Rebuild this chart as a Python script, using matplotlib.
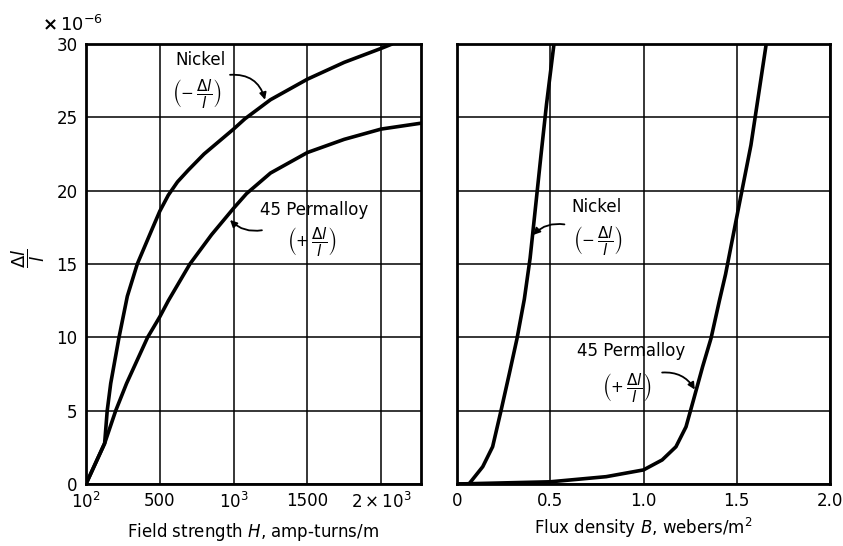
import numpy as np
import matplotlib
matplotlib.use("Agg")
import matplotlib.pyplot as plt

plt.rcParams["font.family"] = ["DejaVu Sans"]
plt.rcParams["mathtext.fontset"] = "dejavusans"

# Magnetostriction (x 10^-6) versus field strength H (amp-turns/m)
h_nickel = [100, 201, 215, 234, 279, 324, 378, 459, 500, 558, 620, 693, 800,
            1000, 1077, 1250, 1500, 1750, 2000, 2074]
strain_nickel_h = [0, 2.77, 5.0, 6.86, 10.0, 12.8, 15.0, 17.4, 18.6, 19.7, 20.6,
                   21.4, 22.5, 24.2, 24.9, 26.2, 27.6, 28.75, 29.7, 30.0]

h_permalloy = [100, 201, 261, 320, 434, 500, 558, 704, 851, 1000, 1088, 1250,
               1500, 1750, 2000, 2270]
strain_permalloy_h = [0, 2.77, 5.0, 6.86, 10.0, 11.4, 12.5, 15.0, 17.0, 18.8,
                      19.8, 21.2, 22.6, 23.5, 24.2, 24.6]

# Magnetostriction (x 10^-6) versus flux density B (webers/m^2)
b_nickel = [0, 0.064, 0.138, 0.191, 0.236, 0.281, 0.322, 0.361, 0.392, 0.417,
            0.451, 0.480, 0.520]
strain_nickel_b = [0, 0, 1.18, 2.54, 5.0, 7.55, 9.93, 12.6, 15.4, 18.4, 22.5,
                   25.9, 30.0]

b_permalloy = [0, 0.5, 0.80, 1.0, 1.1, 1.174, 1.228, 1.268, 1.317, 1.362, 1.407,
               1.440, 1.503, 1.576, 1.658]
strain_permalloy_b = [0, 0.15, 0.5, 0.96, 1.64, 2.54, 3.9, 5.73, 8.0, 9.93, 12.5,
                      14.3, 18.4, 23.1, 30.0]

h_ticks = [100, 500, 1000, 1500, 2000]
h_tick_labels = [r"$10^2$", "500", r"$10^3$", "1500", r"$2\times10^3$"]
b_ticks = [0, 0.5, 1.0, 1.5, 2.0]
b_tick_labels = ["0", "0.5", "1.0", "1.5", "2.0"]
strain_ticks = [0, 5, 10, 15, 20, 25, 30]


# H axis: the first division spans 100..500, the rest are 500 wide
def h_forward(h):
    h = np.asarray(h, dtype=float)
    return np.where(h < 500, (h - 100) * 1.25, h)


def h_inverse(p):
    p = np.asarray(p, dtype=float)
    return np.where(p < 500, p * 0.8 + 100, p)


W, H = 843, 546
fig = plt.figure(figsize=(W / 100, H / 100), dpi=100)
ax_h = fig.add_axes([86 / W, 62 / H, 335 / W, 440 / H])
ax_b = fig.add_axes([457 / W, 62 / H, 373 / W, 440 / H])

curve_kw = dict(color="black", lw=2.6, solid_joinstyle="round",
                solid_capstyle="round", clip_on=True)

for ax in (ax_h, ax_b):
    ax.set_ylim(0, 30)
    ax.set_yticks(strain_ticks)
    ax.grid(True, color="black", lw=1.1)
    ax.set_axisbelow(True)
    ax.tick_params(length=0, pad=6, labelsize=12)
    for s in ax.spines.values():
        s.set_linewidth(2.0)

ax_h.set_xscale("function", functions=(h_forward, h_inverse))
ax_h.set_xlim(100, 2270)
ax_h.set_xticks(h_ticks)
ax_h.set_xticklabels(h_tick_labels)
ax_h.set_yticklabels([str(t) for t in strain_ticks])
ax_h.plot(h_nickel, strain_nickel_h, **curve_kw)
ax_h.plot(h_permalloy, strain_permalloy_h, **curve_kw)
ax_h.set_xlabel(r"Field strength $H$, amp-turns/m", fontsize=12, labelpad=6)

ax_b.set_xlim(0, 2.0)
ax_b.set_xticks(b_ticks)
ax_b.set_xticklabels(b_tick_labels)
ax_b.set_yticklabels([])
ax_b.plot(b_nickel, strain_nickel_b, **curve_kw)
ax_b.plot(b_permalloy, strain_permalloy_b, **curve_kw)
ax_b.set_xlabel(r"Flux density $B$, webers/m$^2$", fontsize=12, labelpad=4)

neg = r"$\left(-\,\dfrac{\Delta l}{l}\right)$"
pos = r"$\left(+\,\dfrac{\Delta l}{l}\right)$"
arrow = dict(arrowstyle="-|>", color="black", lw=1.3, mutation_scale=10,
             shrinkA=0, shrinkB=0)

# Labels on the H panel
ax_h.text(779, 28.9, "Nickel", fontsize=12, ha="center", va="center")
ax_h.text(752, 26.6, neg, fontsize=11, ha="center", va="center")
ax_h.annotate("", xy=(1213, 26.2), xytext=(976, 27.9),
              arrowprops=dict(connectionstyle="arc3,rad=-0.4", **arrow))
ax_h.text(1548, 18.7, "45 Permalloy", fontsize=12, ha="center", va="center")
ax_h.text(1531, 16.5, pos, fontsize=11, ha="center", va="center")
ax_h.annotate("", xy=(976, 18.0), xytext=(1192, 17.3),
              arrowprops=dict(connectionstyle="arc3,rad=-0.25", **arrow))

# Labels on the B panel
ax_b.text(0.747, 18.9, "Nickel", fontsize=12, ha="center", va="center")
ax_b.text(0.756, 16.6, neg, fontsize=11, ha="center", va="center")
ax_b.annotate("", xy=(0.408, 16.98), xytext=(0.576, 17.7),
              arrowprops=dict(connectionstyle="arc3,rad=0.25", **arrow))
ax_b.text(0.931, 9.04, "45 Permalloy", fontsize=12, ha="center", va="center")
ax_b.text(0.913, 6.6, pos, fontsize=11, ha="center", va="center")
ax_b.annotate("", xy=(1.275, 6.44), xytext=(1.10, 7.6),
              arrowprops=dict(connectionstyle="arc3,rad=-0.3", **arrow))

# Shared strain label and scale factor
fig.text(28 / W, 1 - 258 / H, r"$\dfrac{\Delta l}{l}$", fontsize=13,
         rotation=90, ha="center", va="center")
fig.text(42 / W, 1 - 31 / H, r"$\mathbf{\times}\,10^{-6}$", fontsize=13,
         ha="left", va="baseline")

fig.savefig("out.png", dpi=100)
